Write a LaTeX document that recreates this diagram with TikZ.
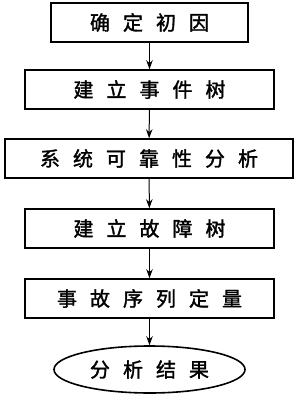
\documentclass[tikz,border=0pt]{standalone}
\usepackage{fontspec}
\newfontfamily\cjk[FakeBold=1.6]{Noto Sans CJK SC}
\usetikzlibrary{arrows.meta,shapes.geometric}
\newcommand{\gap}{\hspace{13pt}}
\begin{document}
\begin{tikzpicture}[x=1pt,y=-1pt,
  stepbox/.style={draw,line width=1.6pt,minimum height=39pt,inner sep=0pt,font=\cjk\fontsize{20}{24}\selectfont},
  endell/.style={ellipse,draw,line width=1.6pt,minimum width=191pt,minimum height=47pt,inner sep=0pt,font=\cjk\fontsize{20}{24}\selectfont},
  arr/.style={line width=1pt,-{Stealth[length=9pt,width=6.5pt]}}]
\useasboundingbox (0,0) rectangle (300,399);
\node[stepbox,minimum width=197pt] (b1) at (149.5,22.5) {确\gap 定\gap 初\gap 因};
\node[stepbox,minimum width=249pt] (b2) at (149.5,89.5) {建\gap 立\gap 事\gap 件\gap 树};
\node[stepbox,minimum width=288pt] (b3) at (149,158.5) {系\gap 统\gap 可\gap 靠\gap 性\gap 分\gap 析};
\node[stepbox,minimum width=249pt] (b4) at (149.5,228.5) {建\gap 立\gap 故\gap 障\gap 树};
\node[stepbox,minimum width=249pt] (b5) at (149.5,298.5) {事\gap 故\gap 序\gap 列\gap 定\gap 量};
\node[endell] (e) at (149.5,369.5) {分\gap 析\gap 结\gap 果};
\draw[arr] (b1) -- (b2);
\draw[arr] (b2) -- (b3);
\draw[arr] (b3) -- (b4);
\draw[arr] (b4) -- (b5);
\draw[arr] (b5) -- (e);
\end{tikzpicture}
\end{document}
